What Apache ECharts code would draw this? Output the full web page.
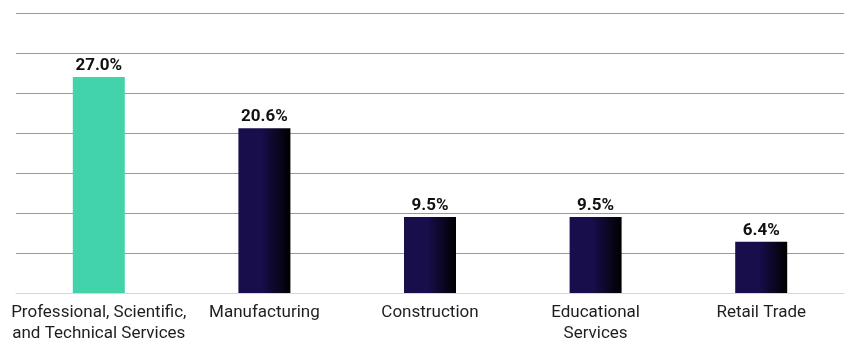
<!DOCTYPE html>
<html>
<head>
<meta charset="utf-8">
<script src="https://cdn.jsdelivr.net/npm/echarts@6/dist/echarts.min.js"></script>
<style>
  html, body { margin: 0; padding: 0; background: #fff; }
  #chart { width: 848px; height: 341px; }
</style>
</head>
<body>
<div id="chart"></div>
<script>
// Share of employment by industry
const categories = [
  'Professional, Scientific,\nand Technical Services',
  'Manufacturing',
  'Construction',
  'Educational\nServices',
  'Retail Trade'
];
const values = [27.0, 20.6, 9.5, 9.5, 6.4];
const highlightIndex = 0;

const navyGradient = new echarts.graphic.LinearGradient(0, 0, 1, 0, [
  { offset: 0, color: '#170e4b' },
  { offset: 0.45, color: '#170e4b' },
  { offset: 1, color: '#000000' }
]);

const chart = echarts.init(document.getElementById('chart'), null, { renderer: 'canvas' });
chart.setOption({
  animation: false,
  grid: {
    left: 16, right: 4, top: 13, bottom: 48,
    containLabel: false,
    outerBoundsMode: 'none'
  },
  xAxis: {
    type: 'category',
    data: categories,
    axisLine: { show: true, lineStyle: { color: '#d6d6d6', width: 1 } },
    axisTick: { show: false },
    axisLabel: {
      interval: 0,
      margin: 9,
      color: '#1e1e1e',
      fontFamily: 'Roboto',
      fontSize: 17,
      lineHeight: 21
    }
  },
  yAxis: {
    type: 'value',
    min: 0,
    max: 35,
    interval: 5,
    axisLabel: { show: false },
    axisLine: { show: false },
    axisTick: { show: false },
    splitLine: { lineStyle: { color: '#9a9a9a', width: 1 } }
  },
  series: [{
    type: 'bar',
    barWidth: 52,
    data: values.map((v, i) => ({
      value: v,
      itemStyle: { color: i === highlightIndex ? '#42d3aa' : navyGradient }
    })),
    label: {
      show: true,
      position: 'top',
      distance: 3,
      color: '#111',
      fontFamily: 'Roboto',
      fontWeight: 'bold',
      fontSize: 17,
      formatter: p => p.value.toFixed(1) + '%'
    }
  }]
});
</script>
</body>
</html>
